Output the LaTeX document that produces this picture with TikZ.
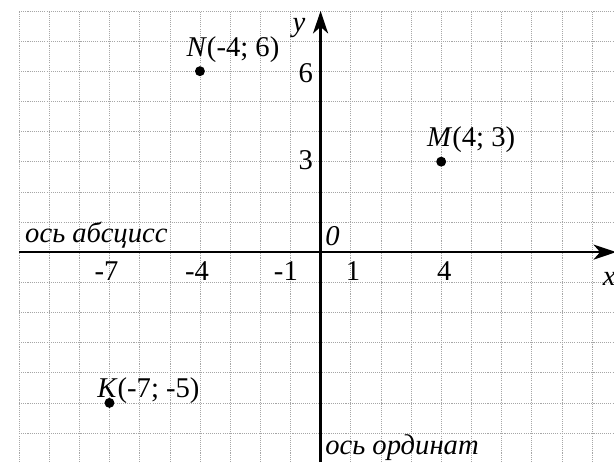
\documentclass[tikz,border=0pt]{standalone}
\usepackage{fontspec}
\setmainfont{Liberation Serif}
\usetikzlibrary{arrows.meta}
\tikzset{
  gridline/.style={gray!70,line width=.5pt,dash pattern=on 1pt off 1pt},
  axis/.style={line width=2.3pt,-{Stealth[length=7.5mm,width=5mm,inset=2.2mm]}},
  pt/.style={circle,fill,inner sep=0pt,minimum size=3.3mm},
  lbl/.style={inner sep=0pt,anchor=base west},
  tick/.style={inner sep=0pt,anchor=base},
}
\begin{document}
\begin{tikzpicture}[x=1cm,y=1cm,font=\fontsize{27}{32}\selectfont]
  \useasboundingbox (-10.63,-6.96) rectangle (9.73,8.36);
  % grid
  \foreach \i in {-10,...,9} \draw[gridline] (\i,-6.96)--(\i,8);
  \foreach \j in {-6,...,8} \draw[gridline] (-10,\j)--(9.73,\j);
  % axes
  \coordinate (xl) at (-10,0);
  \coordinate (xr) at (9.8,0);
  \coordinate (yb) at (0,-6.96);
  \coordinate (yt) at (0,8);
  \draw[axis] (xl)--(xr);
  \draw[axis] (yb)--(yt);
  \node[lbl] (xlab) at (9.35,-1.1) {\textit{x}};
  \node[lbl] (ylab) at (-0.93,7.3) {\textit{y}};
  \node[lbl] (o) at (0.15,0.23) {\textit{0}};
  \node[lbl] (abs) at (-9.8,0.33) {\textit{ось абсцисс}};
  \node[lbl] (ord) at (0.15,-6.7) {\textit{ось ординат}};
  % ticks
  \foreach \v/\c in {-7/-7.1,-4/-4.1,-1/-1.15,1/1.08,4/4.1}
    \node[tick] (tx\v) at (\c,-0.93) {\v};
  \node[inner sep=0pt,anchor=base east] (ty6) at (-0.25,5.63) {6};
  \node[inner sep=0pt,anchor=base east] (ty3) at (-0.25,2.73) {3};
  % points
  \node[pt] (N) at (-4,6) {};
  \node[pt] (M) at (4,3) {};
  \node[pt] (K) at (-7,-5) {};
  \node[lbl] (nlab) at (-4.45,6.5) {\textit{N}(-4; 6)};
  \node[lbl] (mlab) at (3.53,3.5) {\textit{M}(4; 3)};
  \node[lbl] (klab) at (-7.41,-4.83) {\textit{K}(-7; -5)};
\end{tikzpicture}
\end{document}
